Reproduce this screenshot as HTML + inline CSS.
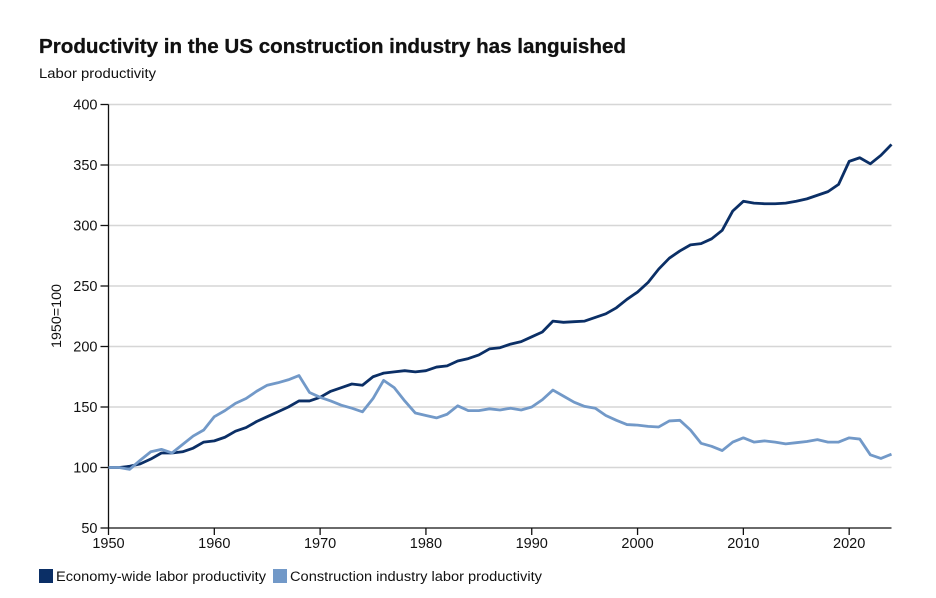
<!DOCTYPE html>
<html lang="en">
<head>
<meta charset="utf-8">
<title>Productivity in the US construction industry has languished</title>
<style>
  html, body { margin: 0; padding: 0; background: #fff; }
  body { width: 936px; height: 598px; overflow: hidden; }
  svg { display: block; }
  text { font-family: "Liberation Sans", "DejaVu Sans", sans-serif; fill: #111; }
</style>
</head>
<body>
<svg id="chart" width="936" height="598" viewBox="0 0 936 598" xmlns="http://www.w3.org/2000/svg">
  <text x="39" y="53" font-size="20.5" font-weight="700" stroke="#111" stroke-width="0.3" textLength="587" lengthAdjust="spacingAndGlyphs">Productivity in the US construction industry has languished</text>
  <text x="39" y="78" font-size="13.5" textLength="117" lengthAdjust="spacingAndGlyphs">Labor productivity</text>
  <text transform="translate(61,316) rotate(-90)" text-anchor="middle" font-size="14" textLength="64" lengthAdjust="spacingAndGlyphs">1950=100</text>
  <g id="grid"></g>
  <g id="axes"></g>
  <g id="series"></g>
  <rect x="39" y="569" width="14" height="14" fill="#0b2f66"></rect>
  <text x="56" y="581" font-size="13.5" textLength="210" lengthAdjust="spacingAndGlyphs">Economy-wide labor productivity</text>
  <rect x="273" y="569" width="14" height="14" fill="#7299c8"></rect>
  <text x="290" y="581" font-size="13.5" textLength="252" lengthAdjust="spacingAndGlyphs">Construction industry labor productivity</text>
</svg>
<script>
const years = [1950,1951,1952,1953,1954,1955,1956,1957,1958,1959,1960,1961,1962,1963,1964,1965,1966,1967,1968,1969,1970,1971,1972,1973,1974,1975,1976,1977,1978,1979,1980,1981,1982,1983,1984,1985,1986,1987,1988,1989,1990,1991,1992,1993,1994,1995,1996,1997,1998,1999,2000,2001,2002,2003,2004,2005,2006,2007,2008,2009,2010,2011,2012,2013,2014,2015,2016,2017,2018,2019,2020,2021,2022,2023,2024];
const economyValues = [100,100,101,103,107,112,112,113,116,121,122,125,130,133,138,142,146,150,155,155,158,163,166,169,168,175,178,179,180,179,180,183,184,188,190,193,198,199,202,204,208,212,221,220,220.5,221,224,227,232,239,245,253,264,273,279,284,285,289,296,312,320,318.5,318,318,318.5,320,322,325,328,334,353,356,351,358,367];
const constructionValues = [100,100,98.5,106,113,115,112,119,126,131,142,147,153,157,163,168,170,172.5,176,162,158,155,151.5,149,146,157,172,166,155,145,143,141,144,151,147,147,148.5,147.5,149,147.5,150,156,164,159,154,150.5,149,143,139,135.5,135,134,133.5,138.5,139,131,120,117.5,114,121,124.5,121,122,121,119.5,120.5,121.5,123,121,121,124.5,123.5,110.5,107.5,111];
const yTicks = [50,100,150,200,250,300,350,400];
const xTicks = [1950,1960,1970,1980,1990,2000,2010,2020];

const NS = 'http://www.w3.org/2000/svg';
const plotLeft = 108.5, plotRight = 891.5, plotTop = 104.5, plotBottom = 528;
const xMin = 1950, xMax = 2024, yMin = 50, yMax = 400;
function xScale(v) { return plotLeft + (v - xMin) / (xMax - xMin) * (plotRight - plotLeft); }
function yScale(v) { return plotBottom - (v - yMin) / (yMax - yMin) * (plotBottom - plotTop); }
function make(tag, attrs) {
  const el = document.createElementNS(NS, tag);
  for (const k in attrs) el.setAttribute(k, attrs[k]);
  return el;
}
const gridG = document.getElementById('grid');
const axesG = document.getElementById('axes');
const seriesG = document.getElementById('series');

yTicks.forEach(function (t) {
  const y = yScale(t);
  if (t !== yMin) {
    const g = make('line', { x1: plotLeft, x2: plotRight, y1: y, y2: y, stroke: '#d6d6d6', 'stroke-width': 1.4 });
    
    
    gridG.appendChild(g);
  }
  const tick = make('line', { x1: plotLeft - 8, x2: plotLeft, y1: y, y2: y, stroke: '#111', 'stroke-width': 1.3 });
  
  
  axesG.appendChild(tick);
  const label = make('text', { x: plotLeft - 11, y: y + 5, 'text-anchor': 'end', 'font-size': 14.5 });
  
  
  label.textContent = t;
  axesG.appendChild(label);
});

xTicks.forEach(function (t) {
  const x = xScale(t);
  const tick = make('line', { x1: x, x2: x, y1: plotBottom, y2: plotBottom + 7, stroke: '#111', 'stroke-width': 1.3 });
  
  
  axesG.appendChild(tick);
  const label = make('text', { x: x, y: plotBottom + 20, 'text-anchor': 'middle', 'font-size': 14.5 });
  
  
  label.textContent = t;
  axesG.appendChild(label);
});

const yAxisLine = make('line', { x1: plotLeft, x2: plotLeft, y1: plotTop, y2: plotBottom, stroke: '#111', 'stroke-width': 1.3 });


axesG.appendChild(yAxisLine);
const xAxisLine = make('line', { x1: plotLeft, x2: plotRight, y1: plotBottom, y2: plotBottom, stroke: '#111', 'stroke-width': 1.3 });


axesG.appendChild(xAxisLine);

function pathFor(values) {
  return values.map(function (v, i) {
    return (i ? 'L' : 'M') + xScale(years[i]).toFixed(2) + ' ' + yScale(v).toFixed(2);
  }).join(' ');
}
const economyLine = make('path', { d: pathFor(economyValues), fill: 'none', stroke: '#0b2f66', 'stroke-width': 2.8, 'stroke-linejoin': 'round' });


seriesG.appendChild(economyLine);
const constructionLine = make('path', { d: pathFor(constructionValues), fill: 'none', stroke: '#7299c8', 'stroke-width': 2.8, 'stroke-linejoin': 'round' });


seriesG.appendChild(constructionLine);
</script>
</body>
</html>
